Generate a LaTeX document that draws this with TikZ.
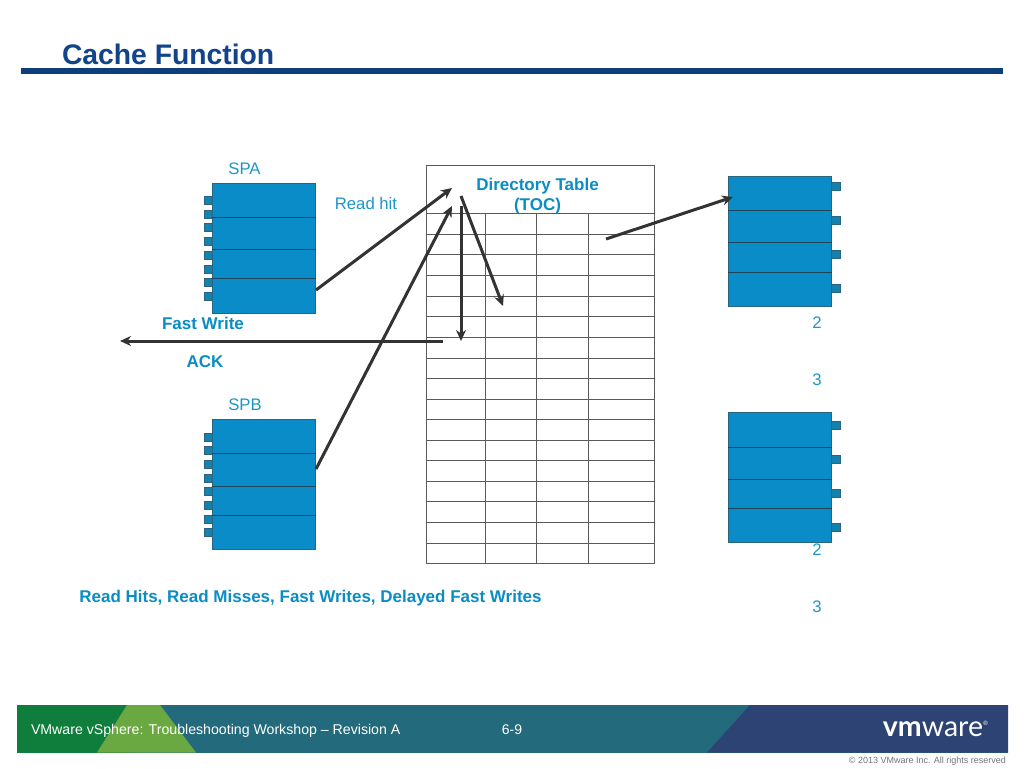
\documentclass[tikz,border=0pt]{standalone}
\usepackage{fontspec}
\setmainfont{Liberation Sans}
\newfontfamily\logofont{Lato}
\usetikzlibrary{arrows.meta}
\definecolor{boxblue}{HTML}{0A8CC8}
\definecolor{boxedge}{HTML}{2A6480}
\definecolor{portblue}{HTML}{1482AC}
\definecolor{lbl}{HTML}{1E96C8}
\definecolor{lblb}{HTML}{0A8CC4}
\definecolor{ttl}{HTML}{12448A}
\definecolor{rulec}{HTML}{0C3F7C}
\definecolor{arr}{HTML}{333333}
\definecolor{gridc}{HTML}{5A5A5A}
\definecolor{fgreen}{HTML}{0F7E3C}
\definecolor{flight}{HTML}{6AA842}
\definecolor{fteal}{HTML}{236A7C}
\definecolor{fnavy}{HTML}{2D4373}
\tikzset{
  x=1pt,y=-1pt,
  every node/.style={inner sep=0pt,outer sep=0pt},
  lab/.style={text=lbl,font=\fontsize{16.7}{19}\selectfont,anchor=center},
  blab/.style={text=lblb,font=\fontsize{17}{19}\selectfont\bfseries,anchor=center},
  sp/.style={draw=boxedge,fill=boxblue,line width=1pt,minimum width=103.5pt,minimum height=130pt,anchor=north west},
  port/.style={draw=boxedge,fill=portblue,line width=.8pt,minimum width=9pt,minimum height=8pt,anchor=center},
  sep/.style={draw=boxedge!70!black,line width=1pt},
  gridl/.style={draw=gridc,line width=.9pt},
  conn/.style={draw=arr,line width=3pt,-{Stealth[length=11pt,width=10pt]}},
}
\begin{document}
\begin{tikzpicture}
\useasboundingbox (0,0) rectangle (1024,768);
\fill[white] (0,0) rectangle (1024,768);
% header
\node[anchor=base west,text=ttl,font=\fontsize{28.3}{32}\selectfont\bfseries] (title) at (62,64) {Cache Function};
\fill[rulec] (21,68) rectangle (1003,74);
% table
\node[draw=gridc,line width=.9pt,minimum width=228pt,minimum height=398pt,anchor=north west] (tbl) at (426.5,165.5) {};
\foreach \yy in {213.5,234.5,254.5,275.5,296.5,316.5,337.5,358.5,378.5,399.5,419.5,440.5,460.5,481.5,501.5,522.5,543.5}
  \draw[gridl] (426.5,\yy) -- (654.5,\yy);
\foreach \xx in {485.5,536.5,588.5}
  \draw[gridl] (\xx,213.5) -- (\xx,563.5);
\node[blab,align=center,font=\fontsize{17}{20.5}\selectfont\bfseries] (dir) at (537.5,196) {Directory Table\\(TOC)};
% left ports
\foreach \yy [count=\i] in {200,214,227,241,255,269,282,296}
  \node[port] (pa\i) at (208.5,\yy) {};
\foreach \yy [count=\i] in {437,450,464,478,491,505,519,532}
  \node[port] (pb\i) at (208.5,\yy) {};
% SPA/SPB
\node[sp] (spa) at (212,183) {};
\node[sp] (spb) at (212,419.5) {};
\foreach \yy in {217,249,278} \draw[sep] (212,\yy) -- (316,\yy);
\foreach \yy in {453,486,515} \draw[sep] (212,\yy) -- (316,\yy);
% right ports
\foreach \yy [count=\i] in {186,220,254,288}
  \node[port] (qa\i) at (835.5,\yy) {};
\foreach \yy [count=\i] in {425,459,493,527}
  \node[port] (qb\i) at (835.5,\yy) {};
% right boxes
\node[sp] (da) at (728,176) {};
\node[sp] (db) at (728,412.5) {};
\foreach \yy in {210,242,272} \draw[sep] (728,\yy) -- (832,\yy);
\foreach \yy in {447,479,508} \draw[sep] (728,\yy) -- (832,\yy);
% labels
\node[lab] (lspa) at (244.5,168.5) {SPA};
\node[lab] (lspb) at (245,404.5) {SPB};
\node[lab] (lrh) at (366,204) {Read hit};
\node[blab] (lfw) at (203,323.5) {Fast Write};
\node[blab] (lack) at (205,362) {ACK};
\node[lab] (n2a) at (817,322.5) {2};
\node[lab] (n3a) at (817,379.5) {3};
\node[lab] (n2b) at (817,549.5) {2};
\node[lab] (n3b) at (817,606.5) {3};
\node[blab] (lsum) at (310.5,598) {Read Hits, Read Misses, Fast Writes, Delayed Fast Writes};
% connector ends
\coordinate (c1) at (452,188);
\coordinate (c2) at (452,206);
\coordinate (c3) at (461,196);
\coordinate (c4) at (503,306);
\coordinate (c5) at (461,206);
\coordinate (c6) at (461,341);
\coordinate (c7) at (606,239);
\coordinate (c8) at (733,197);
\coordinate (c9) at (443,341);
\coordinate (c10) at (120,341);
\coordinate (s1) at (316,290);
\coordinate (s2) at (316,469);
\draw[conn] (s1) -- (c1);
\draw[conn] (s2) -- (c2);
\draw[conn] (c3) -- (c4);
\draw[conn] (c5) -- (c6);
\draw[conn] (c7) -- (c8);
\draw[conn] (c9) -- (c10);
% footer
\fill[fteal] (17,705) rectangle (1008,752.5);
\fill[fgreen] (17,705) rectangle (130,752.5);
\fill[flight] (127,705) -- (160,705) -- (196,752.5) -- (97,752.5) -- cycle;
\fill[fnavy] (750,705) -- (1008,705) -- (1008,752.5) -- (707,752.5) -- cycle;
\node[anchor=base west,text=white,font=\fontsize{14.15}{17}\selectfont] (ftxt) at (31,734) {VMware vSphere: Troubleshooting Workshop – Revision A};
\node[anchor=base,text=white,font=\fontsize{14}{17}\selectfont] (fnum) at (512,734) {6-9};
\node[anchor=base east,text=white,font=\logofont\fontsize{28.5}{32}\selectfont] (logo) at (988,736) {\textbf{vm}ware\raisebox{11pt}{\fontsize{6}{6}\selectfont ®}};
\node[anchor=base east,text=black!55,font=\fontsize{9}{11}\selectfont] (copy) at (1006,763) {© 2013 VMware Inc. All rights reserved};
\end{tikzpicture}
\end{document}
